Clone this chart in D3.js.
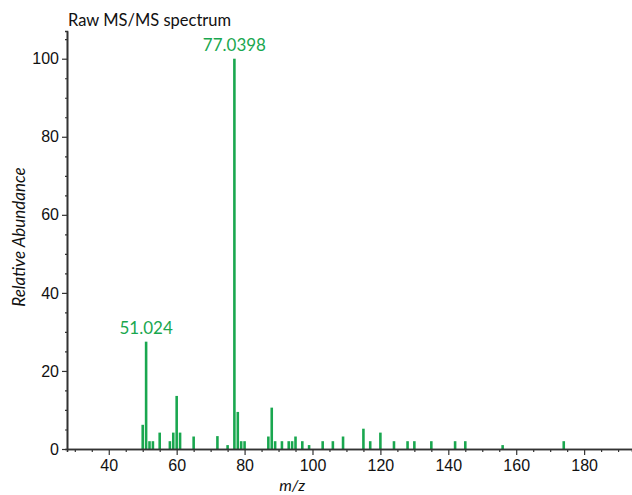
<!DOCTYPE html>
<html>
<head>
<meta charset="utf-8">
<script src="https://cdn.jsdelivr.net/npm/d3@7"></script>
<style>
  body { margin: 0; background: #fff; }
  svg { font-family: Lato, "Open Sans", sans-serif; }
</style>
</head>
<body>
<div id="chart"></div>
<script>
// peak list (m/z, relative abundance)
var mzValues = [50, 51, 52, 53, 55, 58, 59, 60, 61, 65, 72, 75, 77, 78, 79, 80,
    87, 88, 89, 91, 93, 94, 95, 97, 99, 103, 106, 109, 115, 117, 120, 124,
    128, 130, 135, 142, 145, 156, 174];
var abundance = [6.2, 27.5, 2, 2, 4.2, 2, 4.2, 13.6, 4.2, 3.2, 3.3, 1, 100, 9.5, 2, 2,
    3.2, 10.6, 2, 2, 2, 2, 3.2, 2, 1, 2, 2, 3.2, 5.2, 2, 4.2, 2,
    2, 2, 2, 2, 2, 1, 2];
var peakLabels = [{mz: 51, text: "51.024"}, {mz: 77, text: "77.0398"}];
var xTicks = [40, 60, 80, 100, 120, 140, 160, 180];
var yTicks = [0, 20, 40, 60, 80, 100];

var width = 632, height = 495;
var margins = {top: 31, bottom: 46, left: 67, right: 0};
var green = "#19a74f";
var axisColor = "#333";

var svg = d3.select("#chart").append("svg")
    .attr("width", width)
    .attr("height", height);

var xScale = d3.scaleLinear()
    .domain([27.7, 194.1])
    .range([margins.left, width - margins.right]);
var yScale = d3.scaleLinear()
    .domain([0, 107.1])
    .range([height - margins.bottom, margins.top]);

// bars
var barHalf = 0.38;
svg.append("g").selectAll("rect")
    .data(mzValues)
    .enter()
    .append("rect")
    .attr("x", d => xScale(d - barHalf))
    .attr("width", d => xScale(d + barHalf) - xScale(d - barHalf))
    .attr("y", (d, i) => yScale(abundance[i]))
    .attr("height", (d, i) => yScale(0) - yScale(abundance[i]))
    .attr("fill", green);

// minor ticks first, then major ones on top
var xMinor = d3.range(30, 195, 5).filter(v => xTicks.indexOf(v) < 0);
var xAxisG = svg.append("g")
    .attr("transform", `translate(0,${yScale(0)})`);
xAxisG.append("g")
    .call(d3.axisBottom(xScale).tickValues(xMinor).tickSize(3).tickFormat(""));
xAxisG.append("g")
    .call(d3.axisBottom(xScale).tickValues(xTicks).tickSize(6).tickPadding(5).tickSizeOuter(0));

var yMinor = d3.range(5, 106, 5).filter(v => yTicks.indexOf(v) < 0);
var yAxisG = svg.append("g")
    .attr("transform", `translate(${margins.left},0)`);
yAxisG.append("g")
    .call(d3.axisLeft(yScale).tickValues(yMinor).tickSize(2).tickFormat(""));
yAxisG.append("g")
    .call(d3.axisLeft(yScale).tickValues(yTicks).tickSize(5).tickPadding(3).tickSizeOuter(0));

svg.selectAll(".domain").attr("stroke", axisColor).attr("stroke-width", 1.6);
svg.selectAll(".tick line").attr("stroke", axisColor).attr("stroke-width", 1.2);
svg.selectAll(".tick text")
    .attr("fill", "#111")
    .style("font-size", "16px");

// peak annotations
svg.append("g").selectAll("text")
    .data(peakLabels)
    .enter()
    .append("text")
    .attr("x", d => xScale(d.mz))
    .attr("y", d => yScale(abundance[mzValues.indexOf(d.mz)]) - 8)
    .attr("text-anchor", "middle")
    .attr("fill", green)
    .style("font-size", "17px")
    .text(d => d.text);

// titles
svg.append("text")
    .attr("x", 68)
    .attr("y", 26)
    .style("font-size", "16.5px")
    .attr("fill", "#111")
    .text("Raw MS/MS spectrum");

svg.append("text")
    .attr("x", xScale(94))
    .attr("y", 491)
    .attr("text-anchor", "middle")
    .style("font-size", "16px")
    .style("font-style", "italic")
    .attr("fill", "#111")
    .text("m/z");

svg.append("text")
    .attr("transform", "rotate(-90)")
    .attr("x", -237)
    .attr("y", 25)
    .attr("text-anchor", "middle")
    .style("font-size", "17px")
    .style("font-style", "italic")
    .attr("fill", "#111")
    .text("Relative Abundance");
</script>
</body>
</html>
